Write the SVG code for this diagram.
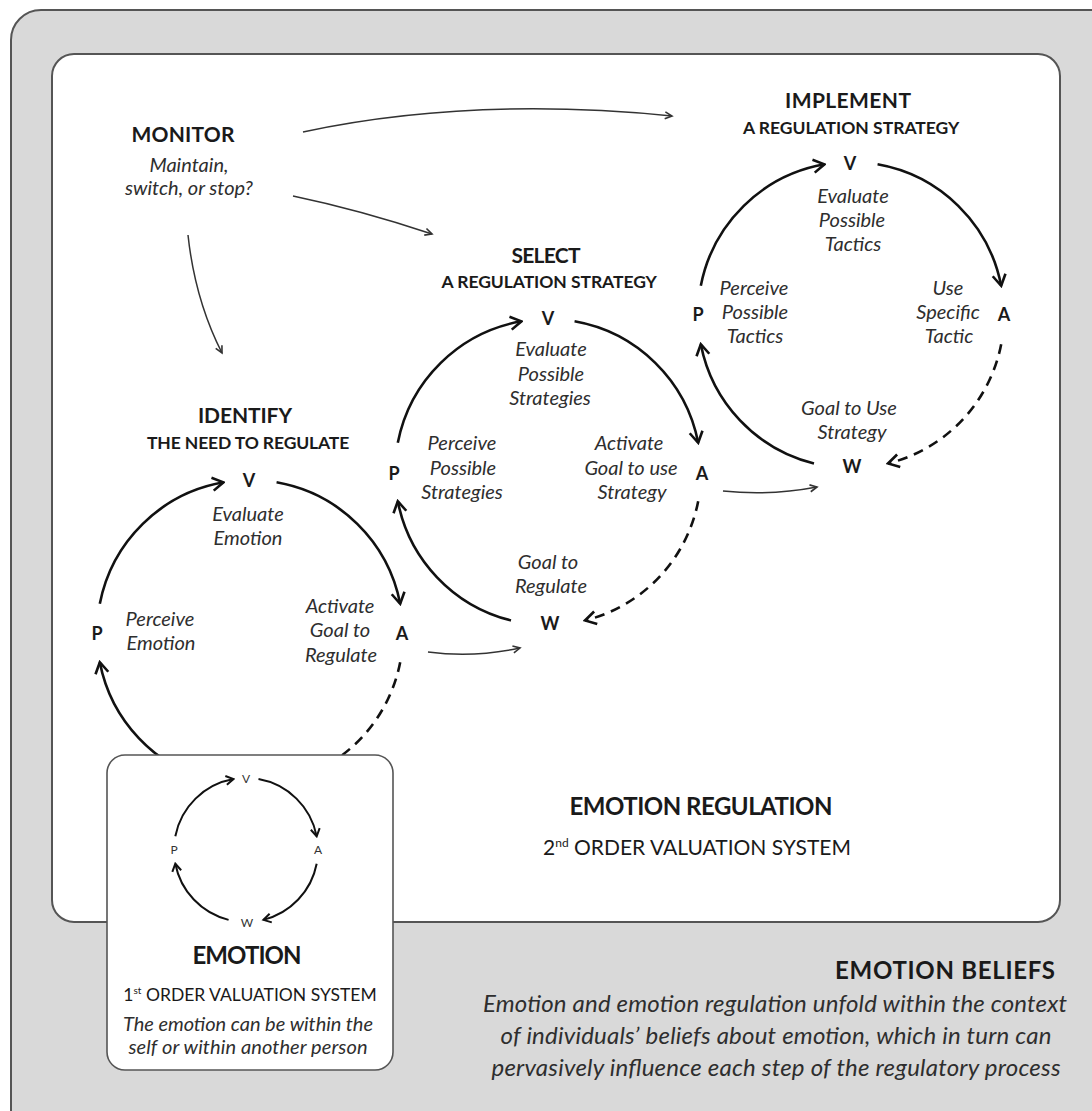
<svg xmlns="http://www.w3.org/2000/svg" width="1092" height="1111" viewBox="0 0 1092 1111">
  <defs>
    <style>
      .t { font-family: "Lato", "Open Sans", "Liberation Sans", sans-serif; fill: #1a1a1a; text-anchor: middle; }
      .title { font-weight: 700; font-size: 21px; }
      .sub { font-weight: 700; font-size: 17.5px; letter-spacing: -0.3px; }
      .node { font-weight: 700; font-size: 18px; }
      .lbl { font-style: italic; font-size: 20px; fill: #2e2e2e; }
      .small { font-size: 12px; fill: #333; }
      .big { font-weight: 700; font-size: 24px; }
      .note { font-style: italic; font-size: 24px; fill: #2e2e2e; }
      .cyc { fill: none; stroke: #111; stroke-width: 2.6; marker-end: url(#chev); }
      .dash { stroke-dasharray: 10 7; }
      .mini { fill: none; stroke: #111; stroke-width: 2; marker-end: url(#chevS); }
      .link { fill: none; stroke: #333; stroke-width: 1.5; marker-end: url(#tip); }
    </style>
    <marker id="chev" markerUnits="userSpaceOnUse" viewBox="-14 -8 16 16" markerWidth="16" markerHeight="16" refX="0" refY="0" orient="auto">
      <path d="M-11,-6.5 L0,0 L-11,6.5" fill="none" stroke="#111" stroke-width="2.6" stroke-linejoin="miter"/>
    </marker>
    <marker id="chevS" markerUnits="userSpaceOnUse" viewBox="-10 -6 12 12" markerWidth="12" markerHeight="12" refX="0" refY="0" orient="auto">
      <path d="M-7.5,-4.5 L0,0 L-7.5,4.5" fill="none" stroke="#111" stroke-width="2"/>
    </marker>
    <marker id="tip" markerUnits="userSpaceOnUse" viewBox="-10 -6 12 12" markerWidth="12" markerHeight="12" refX="0" refY="0" orient="auto">
      <path d="M-7,-3.5 L0,0 L-7,3.5" fill="none" stroke="#333" stroke-width="1.6"/>
    </marker>
  </defs>

  <!-- outer frame: emotion beliefs -->
  <rect x="11" y="10" width="1110" height="1130" rx="30" fill="#d9d9d9" stroke="#555" stroke-width="2"/>
  <!-- inner panel: emotion regulation -->
  <rect x="52" y="54" width="1008" height="868" rx="22" fill="#fff" stroke="#555" stroke-width="2"/>

  <!-- connectors -->
  <g id="connectors">
    <!-- monitor links -->
    <path class="link" d="M303,132 Q472,96 672,116"/>
    <path class="link" d="M293,196 Q360,210 432,234"/>
    <path class="link" d="M188,235 Q195,300 222,353"/>
    <!-- links between cycles -->
    <path class="link" d="M428,652 Q474,658 520,648"/>
    <path class="link" d="M723,491 Q770,496 817,487"/>

    <!-- identify cycle -->
    <path class="cyc" d="M99.81,603.81 A153,153 0 0 1 223.43,482.32"/>
    <path class="cyc" d="M276.57,482.32 A153,153 0 0 1 400.19,603.81"/>
    <path class="cyc dash" d="M400.19,662.19 A153,153 0 0 1 287.01,781.46"/>
    <path class="cyc" d="M212.99,781.46 A153,153 0 0 1 99.81,662.19"/>

    <!-- select cycle -->
    <path class="cyc" d="M397.81,442.81 A153,153 0 0 1 521.43,321.32"/>
    <path class="cyc" d="M574.57,321.32 A153,153 0 0 1 698.19,442.81"/>
    <path class="cyc dash" d="M698.19,501.19 A153,153 0 0 1 585.01,620.46"/>
    <path class="cyc" d="M510.99,620.46 A153,153 0 0 1 397.81,501.19"/>

    <!-- implement cycle -->
    <path class="cyc" d="M700.81,285.81 A153,153 0 0 1 824.43,164.32"/>
    <path class="cyc" d="M877.57,164.32 A153,153 0 0 1 1001.19,285.81"/>
    <path class="cyc dash" d="M1001.19,344.19 A153,153 0 0 1 888.01,463.46"/>
    <path class="cyc" d="M813.99,463.46 A153,153 0 0 1 700.81,344.19"/>
  </g>

  <!-- monitor -->
  <g id="monitor" class="t">
    <text class="title" x="183" y="142" textLength="103">MONITOR</text>
    <text class="lbl" x="189" y="172">Maintain,</text>
    <text class="lbl" x="189" y="195">switch, or stop?</text>
  </g>

  <!-- identify the need to regulate -->
  <g id="identify" class="t">
    <text class="title" x="245" y="423" textLength="94">IDENTIFY</text>
    <text class="sub" x="248" y="449" textLength="202">THE NEED TO REGULATE</text>
    <text class="node" x="249" y="487">V</text>
    <text class="node" x="97" y="640">P</text>
    <text class="node" x="402" y="640">A</text>
    <text class="lbl" x="248" y="521">Evaluate</text>
    <text class="lbl" x="248" y="545">Emotion</text>
    <text class="lbl" x="160" y="626">Perceive</text>
    <text class="lbl" x="161" y="650">Emotion</text>
    <text class="lbl" x="340" y="613">Activate</text>
    <text class="lbl" x="340" y="637">Goal to</text>
    <text class="lbl" x="341" y="662">Regulate</text>
  </g>

  <!-- select a regulation strategy -->
  <g id="select" class="t">
    <text class="title" x="546" y="263" textLength="69">SELECT</text>
    <text class="sub" x="549" y="288" textLength="215">A REGULATION STRATEGY</text>
    <text class="node" x="548" y="325">V</text>
    <text class="node" x="394" y="480">P</text>
    <text class="node" x="702" y="480">A</text>
    <text class="node" x="550" y="630">W</text>
    <text class="lbl" x="551" y="356">Evaluate</text>
    <text class="lbl" x="551" y="381">Possible</text>
    <text class="lbl" x="550" y="405">Strategies</text>
    <text class="lbl" x="462" y="450">Perceive</text>
    <text class="lbl" x="463" y="475">Possible</text>
    <text class="lbl" x="462" y="499">Strategies</text>
    <text class="lbl" x="629" y="450">Activate</text>
    <text class="lbl" x="631" y="475">Goal to use</text>
    <text class="lbl" x="632" y="499">Strategy</text>
    <text class="lbl" x="548" y="569">Goal to</text>
    <text class="lbl" x="551" y="593">Regulate</text>
  </g>

  <!-- implement a regulation strategy -->
  <g id="implement" class="t">
    <text class="title" x="848" y="108" textLength="126">IMPLEMENT</text>
    <text class="sub" x="851" y="134" textLength="216">A REGULATION STRATEGY</text>
    <text class="node" x="850" y="170">V</text>
    <text class="node" x="698" y="321">P</text>
    <text class="node" x="1004" y="321">A</text>
    <text class="node" x="852" y="473">W</text>
    <text class="lbl" x="853" y="203">Evaluate</text>
    <text class="lbl" x="852" y="227">Possible</text>
    <text class="lbl" x="853" y="251">Tactics</text>
    <text class="lbl" x="754" y="295">Perceive</text>
    <text class="lbl" x="755" y="319">Possible</text>
    <text class="lbl" x="755" y="343">Tactics</text>
    <text class="lbl" x="948" y="295">Use</text>
    <text class="lbl" x="948" y="319">Specific</text>
    <text class="lbl" x="949" y="343">Tactic</text>
    <text class="lbl" x="849" y="415">Goal to Use</text>
    <text class="lbl" x="852" y="439">Strategy</text>
  </g>

  <!-- regulation panel caption -->
  <g id="regulation-caption" class="t">
    <text class="big" x="701" y="815" textLength="263">EMOTION REGULATION</text>
    <text x="697" y="855" font-size="21px">2<tspan font-size="12px" dy="-8">nd</tspan><tspan dy="8"> ORDER VALUATION SYSTEM</tspan></text>
  </g>

  <!-- first order system: emotion -->
  <g id="emotion">
    <rect x="107" y="755" width="286" height="315" rx="18" fill="#fff" stroke="#555" stroke-width="1.6"/>
    <path class="mini" d="M175.32,836.26 A72,72 0 0 1 233.50,779.09"/>
    <path class="mini" d="M258.50,779.09 A72,72 0 0 1 316.68,836.26"/>
    <path class="mini" d="M316.68,863.74 A72,72 0 0 1 263.42,919.86"/>
    <path class="mini" d="M228.58,919.86 A72,72 0 0 1 175.32,863.74"/>
    <g class="t">
      <text class="small" x="246" y="783">V</text>
      <text class="small" x="174" y="854">P</text>
      <text class="small" x="318" y="854">A</text>
      <text class="small" x="247" y="927">W</text>
      <text class="big" x="247" y="964" font-size="23px" textLength="109">EMOTION</text>
      <text x="250" y="1001" font-size="17.5px">1<tspan font-size="10px" dy="-7">st</tspan><tspan dy="7"> ORDER VALUATION SYSTEM</tspan></text>
      <text class="lbl" x="248" y="1031" font-size="19px" textLength="250">The emotion can be within the</text>
      <text class="lbl" x="248" y="1054" font-size="19px" textLength="239">self or within another person</text>
    </g>
  </g>

  <!-- emotion beliefs caption -->
  <g id="beliefs" class="t">
    <text class="big" x="945" y="979" font-size="25px" textLength="220">EMOTION BELIEFS</text>
    <text class="note" x="775" y="1012" textLength="584">Emotion and emotion regulation unfold within the context</text>
    <text class="note" x="776" y="1044" textLength="551">of individuals’ beliefs about emotion, which in turn can</text>
    <text class="note" x="776" y="1076" textLength="569">pervasively influence each step of the regulatory process</text>
  </g>
</svg>
